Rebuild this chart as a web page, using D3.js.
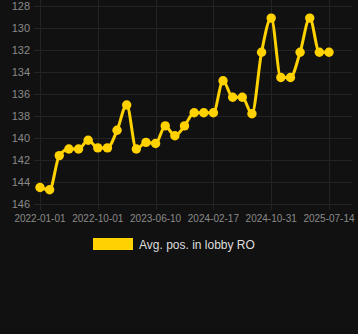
<!DOCTYPE html>
<html>
<head>
<meta charset="utf-8">
<script src="https://cdn.jsdelivr.net/npm/d3@7"></script>
<style>
  html, body { margin: 0; padding: 0; background: #111111; }
  svg { display: block; }
  .grid line { stroke: #242424; stroke-width: 1; }
  .axis text { fill: #8a8a8a; font-family: "Liberation Sans", Arial, sans-serif; }
</style>
</head>
<body>
<div id="chart"></div>
<script>
// avg. position per sample (lower is better, axis reversed)
const positions = [144.5, 144.7, 141.6, 141.0, 141.0, 140.2, 140.9, 140.9, 139.3, 137.0,
  141.0, 140.4, 140.5, 138.9, 139.8, 138.9, 137.7, 137.7, 137.7, 134.8,
  136.3, 136.3, 137.8, 132.2, 129.1, 134.5, 134.5, 132.2, 129.1, 132.2, 132.2];
const tickIndex = [0, 6, 12, 18, 24, 30];
const tickLabels = ["2022-01-01", "2022-10-01", "2023-06-10", "2024-02-17", "2024-10-31", "2025-07-14"];
const yTicks = [128, 130, 132, 134, 136, 138, 140, 142, 144, 146];
const seriesName = "Avg. pos. in lobby RO";

const width = 358, height = 334;
const color = "#FFD200";

const svg = d3.select("#chart")
  .append("svg")
  .attr("width", width)
  .attr("height", height);

const x = d3.scaleLinear().domain([0, positions.length - 1]).range([40, 329]);
const y = d3.scaleLinear().domain([128, 146]).range([6, 204]);

/* grid */
const grid = svg.append("g").attr("class", "grid");
grid.selectAll(".h")
  .data(yTicks)
  .enter()
  .append("line")
  .attr("x1", 34).attr("x2", 352)
  .attr("y1", d => y(d) + 0.5).attr("y2", d => y(d) + 0.5);
grid.selectAll(".v")
  .data(tickIndex)
  .enter()
  .append("line")
  .attr("x1", d => Math.round(x(d)) + 0.5).attr("x2", d => Math.round(x(d)) + 0.5)
  .attr("y1", 0).attr("y2", 210);

/* axes labels */
const axis = svg.append("g").attr("class", "axis");
axis.selectAll(".yl")
  .data(yTicks)
  .enter()
  .append("text")
  .attr("x", 30)
  .attr("y", d => y(d) + 4)
  .attr("text-anchor", "end")
  .style("font-size", "11px")
  .text(d => d);
axis.selectAll(".xl")
  .data(tickIndex)
  .enter()
  .append("text")
  .attr("x", d => x(d))
  .attr("y", 222)
  .attr("text-anchor", "middle")
  .style("font-size", "10px")
  .text((d, i) => tickLabels[i]);

/* line */
const line = d3.line()
  .x((d, i) => x(i))
  .y(d => y(d))
  .curve(d3.curveMonotoneX);

svg.append("path")
  .datum(positions)
  .attr("d", line)
  .attr("fill", "none")
  .attr("stroke", color)
  .attr("stroke-width", 3);

svg.append("g")
  .selectAll("circle")
  .data(positions)
  .enter()
  .append("circle")
  .attr("cx", (d, i) => x(i))
  .attr("cy", d => y(d))
  .attr("r", 4.7)
  .attr("fill", color);

/* legend */
const legend = svg.append("g").attr("transform", "translate(93,238)");
legend.append("rect")
  .attr("width", 40)
  .attr("height", 12)
  .attr("fill", color);
legend.append("text")
  .attr("x", 46)
  .attr("y", 10.5)
  .attr("fill", "#dddddd")
  .style("font-family", "'Liberation Sans', Arial, sans-serif")
  .style("font-size", "12px")
  .text(seriesName);
</script>
</body>
</html>
